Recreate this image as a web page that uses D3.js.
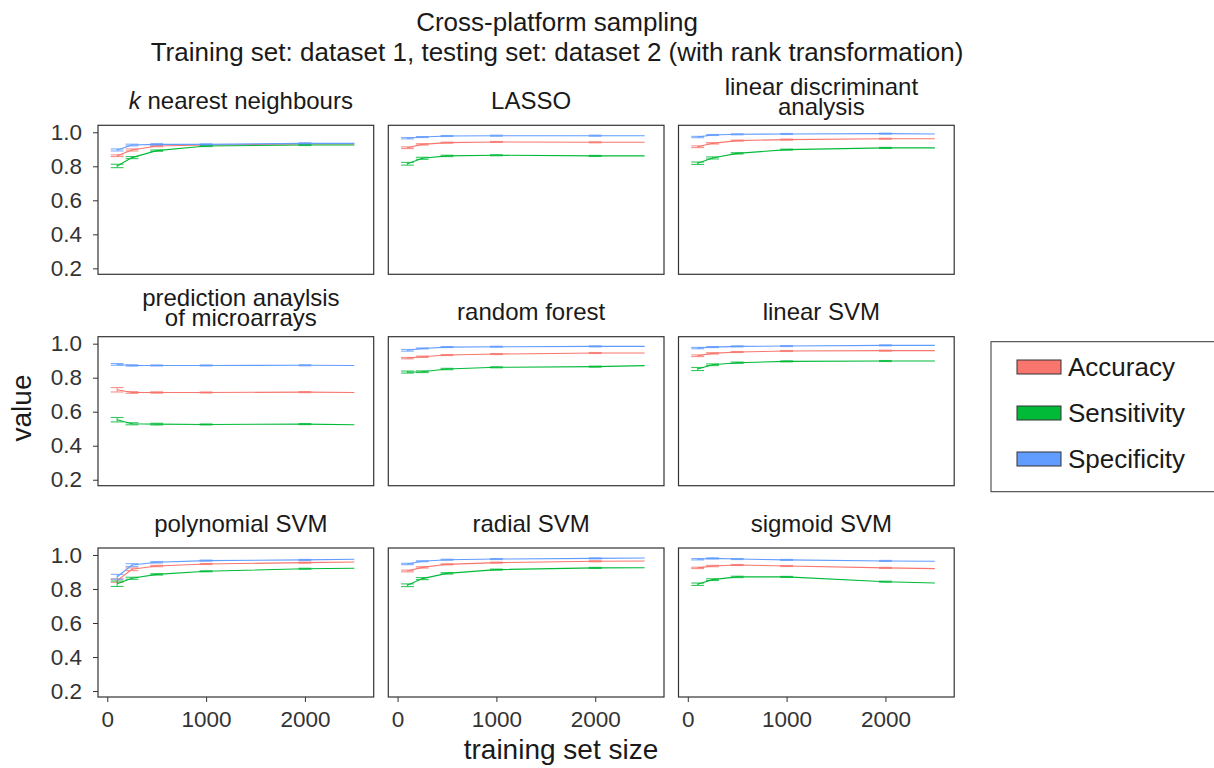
<!DOCTYPE html>
<html>
<head>
<meta charset="utf-8">
<script src="https://cdn.jsdelivr.net/npm/d3@7"></script>
<style>
  body { margin: 0; background: #fff; }
  svg text { font-family: "Liberation Sans", Arial, sans-serif; }
</style>
</head>
<body>
<div class="container"></div>
<script>
var methods = ["k nearest neighbours", "LASSO", "linear discriminant\nanalysis",
  "prediction anaylsis\nof microarrays", "random forest", "linear SVM",
  "polynomial SVM", "radial SVM", "sigmoid SVM"];
var sizes = [100, 250, 500, 1000, 2000, 2500];
var metrics = ["Accuracy", "Sensitivity", "Specificity"];
var colors = ["#F8766D", "#00BA38", "#619CFF"];
var xTicks = [0, 1000, 2000];
var yTicks = [0.2, 0.4, 0.6, 0.8, 1.0];

// one row per method, one value per training set size
var accuracy = [
  [0.862, 0.896, 0.919, 0.925, 0.931, 0.931],
  [0.909, 0.929, 0.939, 0.943, 0.941, 0.941],
  [0.915, 0.935, 0.951, 0.957, 0.962, 0.962],
  [0.729, 0.713, 0.713, 0.713, 0.715, 0.713],
  [0.915, 0.923, 0.933, 0.939, 0.945, 0.945],
  [0.929, 0.943, 0.951, 0.957, 0.959, 0.959],
  [0.849, 0.916, 0.935, 0.947, 0.955, 0.959],
  [0.906, 0.927, 0.945, 0.955, 0.963, 0.965],
  [0.924, 0.935, 0.941, 0.935, 0.924, 0.920]
];
var sensitivity = [
  [0.802, 0.851, 0.892, 0.919, 0.925, 0.925],
  [0.815, 0.847, 0.861, 0.865, 0.861, 0.861],
  [0.818, 0.849, 0.876, 0.898, 0.908, 0.908],
  [0.553, 0.529, 0.527, 0.525, 0.527, 0.523],
  [0.833, 0.835, 0.851, 0.861, 0.865, 0.871],
  [0.851, 0.876, 0.888, 0.896, 0.898, 0.898],
  [0.831, 0.863, 0.886, 0.904, 0.919, 0.922],
  [0.822, 0.861, 0.892, 0.914, 0.924, 0.925],
  [0.828, 0.855, 0.871, 0.871, 0.843, 0.835]
];
var specificity = [
  [0.896, 0.925, 0.929, 0.929, 0.935, 0.935],
  [0.965, 0.972, 0.978, 0.980, 0.980, 0.980],
  [0.972, 0.984, 0.988, 0.990, 0.992, 0.990],
  [0.878, 0.872, 0.872, 0.872, 0.873, 0.872],
  [0.961, 0.972, 0.980, 0.982, 0.984, 0.984],
  [0.974, 0.980, 0.984, 0.986, 0.990, 0.990],
  [0.872, 0.941, 0.957, 0.967, 0.971, 0.975],
  [0.947, 0.963, 0.972, 0.976, 0.980, 0.982],
  [0.975, 0.980, 0.976, 0.971, 0.965, 0.963]
];

// half heights of the error bars
var accuracyErr = [
  [0.005, 0.006, 0.004, 0.003, 0.003, 0],
  [0.005, 0.004, 0.003, 0.003, 0.003, 0],
  [0.005, 0.004, 0.003, 0.003, 0.003, 0],
  [0.013, 0.005, 0.004, 0.003, 0.003, 0],
  [0.004, 0.004, 0.003, 0.003, 0.003, 0],
  [0.005, 0.004, 0.003, 0.003, 0.003, 0],
  [0.010, 0.008, 0.004, 0.003, 0.003, 0],
  [0.005, 0.004, 0.003, 0.003, 0.003, 0],
  [0.004, 0.004, 0.003, 0.003, 0.003, 0]
];
var sensitivityErr = [
  [0.010, 0.006, 0.004, 0.003, 0.003, 0],
  [0.008, 0.006, 0.004, 0.003, 0.003, 0],
  [0.007, 0.006, 0.004, 0.003, 0.003, 0],
  [0.013, 0.006, 0.005, 0.003, 0.003, 0],
  [0.006, 0.005, 0.004, 0.003, 0.003, 0],
  [0.009, 0.005, 0.004, 0.003, 0.003, 0],
  [0.016, 0.006, 0.004, 0.003, 0.003, 0],
  [0.008, 0.006, 0.004, 0.003, 0.003, 0],
  [0.007, 0.005, 0.004, 0.003, 0.003, 0]
];
var specificityErr = [
  [0.006, 0.005, 0.004, 0.003, 0.003, 0],
  [0.004, 0.003, 0.003, 0.003, 0.003, 0],
  [0.004, 0.003, 0.003, 0.003, 0.003, 0],
  [0.005, 0.004, 0.003, 0.003, 0.003, 0],
  [0.005, 0.003, 0.003, 0.003, 0.003, 0],
  [0.004, 0.003, 0.003, 0.003, 0.003, 0],
  [0.014, 0.008, 0.004, 0.003, 0.003, 0],
  [0.004, 0.003, 0.003, 0.003, 0.003, 0],
  [0.004, 0.003, 0.003, 0.003, 0.003, 0]
];

var values = [accuracy, sensitivity, specificity];
var errors = [accuracyErr, sensitivityErr, specificityErr];

var width = 1214, height = 768;
var panelW = 275.7, panelH = 149;
var colX = [98, 388.3, 678.5];
var rowY = [125.3, 336.7, 548];
var capW = 130;

var svg = d3.select(".container")
  .append("svg")
    .attr("width", width)
    .attr("height", height);

var x = d3.scaleLinear().domain([-94, 2696]).range([0, panelW]);
var y = d3.scaleLinear().domain([0.165, 1.041]).range([panelH, 0]);

var line = d3.line()
  .x(function(d) { return x(d.size); })
  .y(function(d) { return y(d.v); });

methods.forEach(function(name, m) {
  var col = m % 3, row = Math.floor(m / 3);
  var g = svg.append("g")
    .attr("transform", "translate(" + colX[col] + "," + rowY[row] + ")");

  // strip title, one text element even when it wraps
  var lines = name.split("\n");
  var t = g.append("text")
    .attr("text-anchor", "middle")
    .style("font-size", "24px")
    .style("fill", "#1a1a1a");
  lines.forEach(function(txt, i) {
    var ty = lines.length == 1 ? -25 : (i == 0 ? -39 : -19);
    var ts = t.append("tspan")
      .attr("x", panelW / 2 + 5)
      .attr("y", ty + 8.5);
    if (txt.indexOf("k ") == 0) {
      ts.append("tspan").style("font-style", "italic").text("k");
      ts.append("tspan").text(txt.slice(1));
    } else {
      ts.text(txt);
    }
  });

  g.append("rect")
    .attr("width", panelW)
    .attr("height", panelH)
    .attr("fill", "#fff");

  metrics.forEach(function(metric, k) {
    var pts = sizes.map(function(s, i) {
      return {size: s, v: values[k][m][i], e: errors[k][m][i]};
    });

    g.append("path")
      .datum(pts)
      .attr("d", line)
      .attr("fill", "none")
      .attr("stroke", colors[k])
      .attr("stroke-width", 1.1);

    var bars = g.selectAll(".err" + k)
      .data(pts.filter(function(d) { return d.e > 0; }))
      .enter()
      .append("g")
      .attr("class", "err" + k)
      .attr("stroke", colors[k])
      .attr("stroke-width", 1.1)
      .attr("opacity", 0.8);

    bars.append("line")
      .attr("x1", function(d) { return x(d.size); })
      .attr("x2", function(d) { return x(d.size); })
      .attr("y1", function(d) { return y(d.v - d.e); })
      .attr("y2", function(d) { return y(d.v + d.e); });
    [-1, 1].forEach(function(sgn) {
      bars.append("line")
        .attr("x1", function(d) { return x(d.size - capW / 2); })
        .attr("x2", function(d) { return x(d.size + capW / 2); })
        .attr("y1", function(d) { return y(d.v + sgn * d.e); })
        .attr("y2", function(d) { return y(d.v + sgn * d.e); });
    });
  });

  g.append("rect")
    .attr("width", panelW)
    .attr("height", panelH)
    .attr("fill", "none")
    .attr("stroke", "#333")
    .attr("stroke-width", 1.2);

  if (col == 0) {
    var ya = g.append("g")
      .call(d3.axisLeft(y).tickValues(yTicks).tickSize(5).tickPadding(11).tickFormat(d3.format(".1f")));
    styleAxis(ya);
  }
  if (row == 2) {
    var xa = g.append("g")
      .attr("transform", "translate(0," + panelH + ")")
      .call(d3.axisBottom(x).tickValues(xTicks).tickSize(5).tickPadding(9).tickFormat(d3.format("d")));
    styleAxis(xa);
  }
});

function styleAxis(a) {
  a.select(".domain").remove();
  a.selectAll("line").attr("stroke", "#333");
  a.selectAll("text")
    .style("font-size", "22.5px")
    .attr("fill", "#333");
}

// titles
svg.append("text")
  .attr("x", 557)
  .attr("y", 31)
  .attr("text-anchor", "middle")
  .style("font-size", "26px")
  .style("fill", "#1a1a1a")
  .text("Cross-platform sampling");
svg.append("text")
  .attr("x", 557)
  .attr("y", 61)
  .attr("text-anchor", "middle")
  .style("font-size", "26px")
  .style("fill", "#1a1a1a")
  .text("Training set: dataset 1, testing set: dataset 2 (with rank transformation)");

svg.append("text")
  .attr("x", 561)
  .attr("y", 759)
  .attr("text-anchor", "middle")
  .style("font-size", "28px")
  .style("fill", "#1a1a1a")
  .text("training set size");

svg.append("text")
  .attr("transform", "translate(31,408)rotate(-90)")
  .attr("text-anchor", "middle")
  .style("font-size", "28px")
  .style("fill", "#1a1a1a")
  .text("value");

// legend
var legend = svg.append("g");
legend.append("rect")
  .attr("x", 991)
  .attr("y", 341.7)
  .attr("width", 240)
  .attr("height", 150)
  .attr("fill", "#fff")
  .attr("stroke", "#333")
  .attr("stroke-width", 1);

var items = legend.selectAll(".item")
  .data(metrics)
  .enter()
  .append("g")
  .attr("class", "item")
  .attr("transform", function(d, i) { return "translate(0," + (367 + i * 46) + ")"; });

items.append("rect")
  .attr("x", 1017)
  .attr("y", -7)
  .attr("width", 44)
  .attr("height", 14)
  .attr("fill", function(d, i) { return colors[i]; })
  .attr("stroke", "#333")
  .attr("stroke-width", 1);

items.append("text")
  .attr("x", 1068)
  .attr("dy", "0.35em")
  .style("font-size", "26px")
  .style("fill", "#1a1a1a")
  .text(function(d) { return d; });
</script>
</body>
</html>
